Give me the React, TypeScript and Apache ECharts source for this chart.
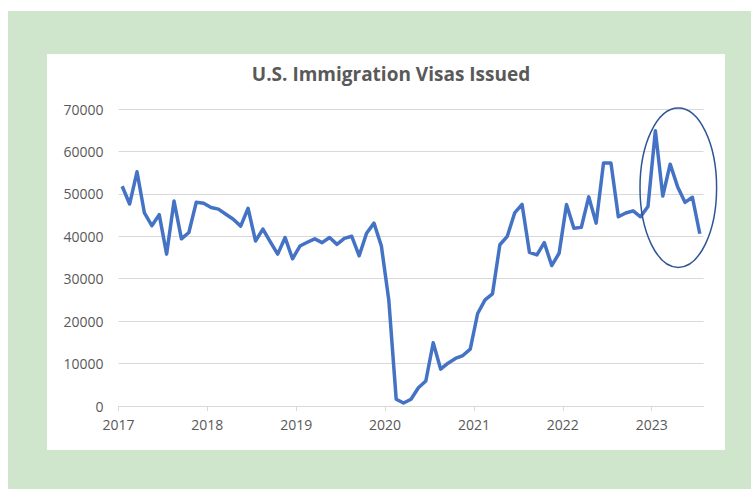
import React, { useEffect, useRef } from "react";
import * as echarts from "echarts";

const TITLE = "U.S. Immigration Visas Issued";
const START_YEAR = 2017;
// Monthly visas issued, Jan 2017 .. Jul 2023
const visas: number[] = [
  51800, 47600, 55200, 45500, 42500, 45100, 35800, 48300, 39400, 40900, 48000, 47800,
  46800, 46400, 45200, 44000, 42400, 46600, 38900, 41700, 38700, 35800, 39700, 34700,
  37700, 38600, 39400, 38500, 39700, 38100, 39500, 40000, 35400, 40700, 43100, 37700,
  25000, 1600, 700, 1600, 4300, 5900, 14900, 8700, 10100, 11200, 11900, 13400,
  21800, 25000, 26400, 38000, 40000, 45500, 47500, 36200, 35600, 38500, 33100, 36000,
  47500, 41900, 42100, 49300, 43100, 57300, 57300, 44600, 45500, 46000, 44600, 47000,
  64900, 49500, 57000, 51700, 48000, 49200, 40600,
];
const yTicks: number[] = [0, 10000, 20000, 30000, 40000, 50000, 60000, 70000];

export default function App() {
  const ref = useRef<HTMLDivElement>(null);
  useEffect(() => {
    if (!ref.current) return;
    const chart = echarts.init(ref.current, undefined, { renderer: "svg" });
    const data = visas.map((v, i) => [i + 0.5, v]);
    chart.setOption({
      animation: false,
      title: {
        text: TITLE,
        left: 386,
        top: 59,
        textAlign: "center",
        textStyle: { fontFamily: "Open Sans", fontWeight: "bold", fontSize: 19, color: "#595959" },
      },
      grid: { left: 118.5, right: 47.5, top: 109, bottom: 83 },
      xAxis: {
        type: "value",
        min: 0,
        max: 79,
        interval: 12,
        axisLine: { show: true, lineStyle: { color: "#d9d9d9", width: 1 } },
        axisTick: { show: true, length: 5, lineStyle: { color: "#d9d9d9" } },
        splitLine: { show: false },
        axisLabel: {
          showMaxLabel: false,
          color: "#595959",
          fontFamily: "Open Sans",
          fontSize: 14,
          margin: 11,
          formatter: (v: number) => String(START_YEAR + Math.round(v / 12)),
        },
      },
      yAxis: {
        type: "value",
        min: yTicks[0],
        max: yTicks[yTicks.length - 1],
        interval: yTicks[1] - yTicks[0],
        axisLine: { show: false },
        axisTick: { show: false },
        splitLine: { lineStyle: { color: "#d9d9d9", width: 1 } },
        axisLabel: {
          color: "#595959",
          fontFamily: "Open Sans",
          fontSize: 14,
          margin: 15,
          formatter: (v: number) => String(v),
        },
      },
      series: [
        {
          type: "line",
          data,
          showSymbol: false,
          symbol: "none",
          lineStyle: { color: "#4472c4", width: 3.5, join: "round" },
        },
      ],
      graphic: [
        {
          type: "ellipse",
          z: 100,
          shape: { cx: 678.3, cy: 187.7, rx: 38.3, ry: 79.7 },
          style: { fill: "none", stroke: "#2f5597", lineWidth: 1.5 },
        },
      ],
    });
    return () => chart.dispose();
  }, []);
  return (
    <div style={{ position: "absolute", left: 0, top: 0, width: 751, height: 489, background: "#ffffff" }}>
      <div style={{ position: "absolute", left: 8, top: 11, width: 743, height: 478, background: "#cfe5cc" }} />
      <div style={{ position: "absolute", left: 47, top: 54, width: 678, height: 396, background: "#ffffff" }} />
      <div ref={ref} style={{ position: "absolute", left: 0, top: 0, width: 751, height: 489 }} />
    </div>
  );
}
